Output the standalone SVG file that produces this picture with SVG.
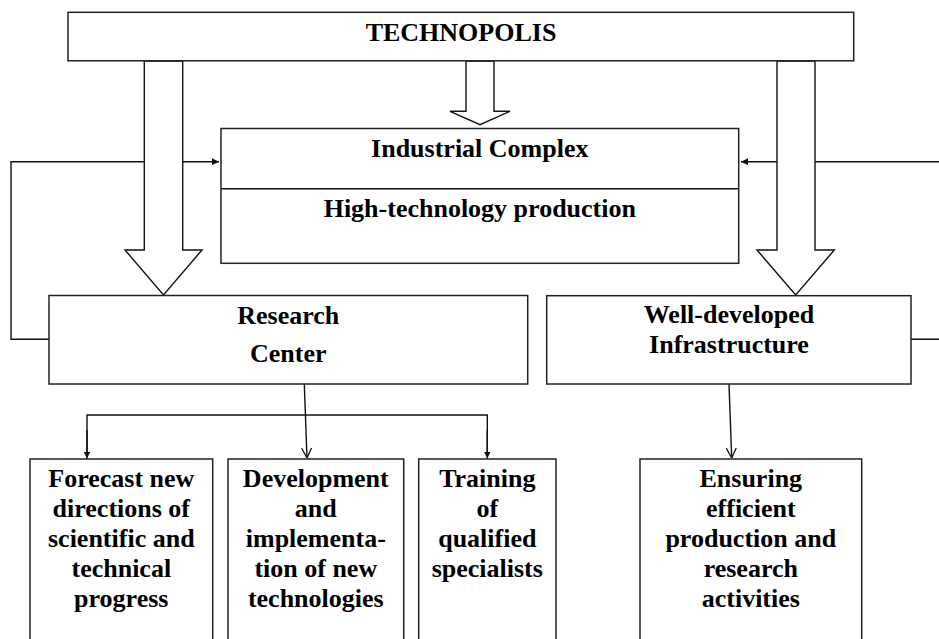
<svg xmlns="http://www.w3.org/2000/svg" width="939" height="639" viewBox="0 0 939 639">
<defs>
<style>
.box{fill:#fff;stroke:#222;stroke-width:1.5}
.ln{fill:none;stroke:#111;stroke-width:1.4}
.blk{fill:#fff;stroke:#111;stroke-width:1.4;stroke-linejoin:miter}
text{font-family:"Liberation Serif","Times New Roman",serif;font-weight:bold;font-size:26px;fill:#000;text-anchor:middle}
</style>
<marker id="fa" viewBox="0 0 10 10" refX="10" refY="5" markerWidth="7" markerHeight="7" markerUnits="userSpaceOnUse" orient="auto">
<path d="M0,0 L10,5 L0,10 Z" fill="#111"/>
</marker>
<marker id="va" viewBox="0 0 10 10" refX="10" refY="5" markerWidth="10" markerHeight="12" markerUnits="userSpaceOnUse" orient="auto">
<path d="M0,0 L10,5 L0,10" fill="none" stroke="#111" stroke-width="1.3"/>
</marker>
</defs>
<rect width="939" height="639" fill="#fff"/>

<g id="connectors">
<polyline class="ln" points="49,339.3 11,339.3 11,161.7 219,161.7" marker-end="url(#fa)"/>
<polyline class="ln" points="911,339.3 941,339.3 941,161.7 741,161.7" marker-end="url(#fa)"/>
<polygon class="blk" points="144.3,61 144.3,250 125,250 163.5,295 202,250 182.7,250 182.7,61"/>
<polygon class="blk" points="466,61 466,111.3 450,111.3 480,124.7 510,111.3 494,111.3 494,61"/>
<polygon class="blk" points="777,61 777,250 757,250 795.7,295 834.3,250 815,250 815,61"/>
<line class="ln" x1="304.3" y1="384" x2="307" y2="458" marker-end="url(#va)"/>
<polyline class="ln" points="87,456.5 87,415 487.3,415 487.3,456.5" />
<line class="ln" x1="87" y1="430" x2="87" y2="458.5" marker-end="url(#fa)"/>
<line class="ln" x1="487.3" y1="430" x2="487.3" y2="458.5" marker-end="url(#fa)"/>
<line class="ln" x1="729" y1="384" x2="731.7" y2="458" marker-end="url(#va)"/>
</g>

<g id="technopolis">
<rect class="box" x="68" y="12.3" width="785.7" height="48.5"/>
<text x="461" y="40.7">TECHNOPOLIS</text>
</g>

<g id="industrial-complex">
<rect class="box" x="221" y="128.5" width="517.7" height="134.8"/>
<line class="ln" x1="221" y1="188.7" x2="738.7" y2="188.7"/>
<text x="479.8" y="156.7">Industrial Complex</text>
<text x="479.8" y="216.7">High-technology production</text>
</g>

<g id="research-center">
<rect class="box" x="49" y="295.5" width="478.7" height="88.5"/>
<text x="288.3" y="324">Research</text>
<text x="288.3" y="361.7">Center</text>
</g>

<g id="infrastructure">
<rect class="box" x="546.7" y="295.7" width="364.3" height="88.3"/>
<text x="729" y="323.3">Well-developed</text>
<text x="729" y="353.3">Infrastructure</text>
</g>

<g id="forecast">
<rect class="box" x="30" y="459" width="182.7" height="190"/>
<text x="121.3" y="487.3">Forecast new</text>
<text x="121.3" y="517.3">directions of</text>
<text x="121.3" y="546.7">scientific and</text>
<text x="121.3" y="576.7">technical</text>
<text x="121.3" y="606.7">progress</text>
</g>

<g id="development">
<rect class="box" x="228" y="459" width="175.7" height="190"/>
<text x="315.8" y="487.3">Development</text>
<text x="315.8" y="517.3">and</text>
<text x="315.8" y="546.7">implementa-</text>
<text x="315.8" y="576.7">tion of new</text>
<text x="315.8" y="606.7">technologies</text>
</g>

<g id="training">
<rect class="box" x="418.7" y="459" width="137.3" height="190"/>
<text x="487.3" y="487.3">Training</text>
<text x="487.3" y="517.3">of</text>
<text x="487.3" y="546.7">qualified</text>
<text x="487.3" y="576.7">specialists</text>
</g>

<g id="ensuring">
<rect class="box" x="640" y="459" width="221.7" height="190"/>
<text x="750.8" y="487.3">Ensuring</text>
<text x="750.8" y="517.3">efficient</text>
<text x="750.8" y="546.7">production and</text>
<text x="750.8" y="576.7">research</text>
<text x="750.8" y="606.7">activities</text>
</g>
</svg>
